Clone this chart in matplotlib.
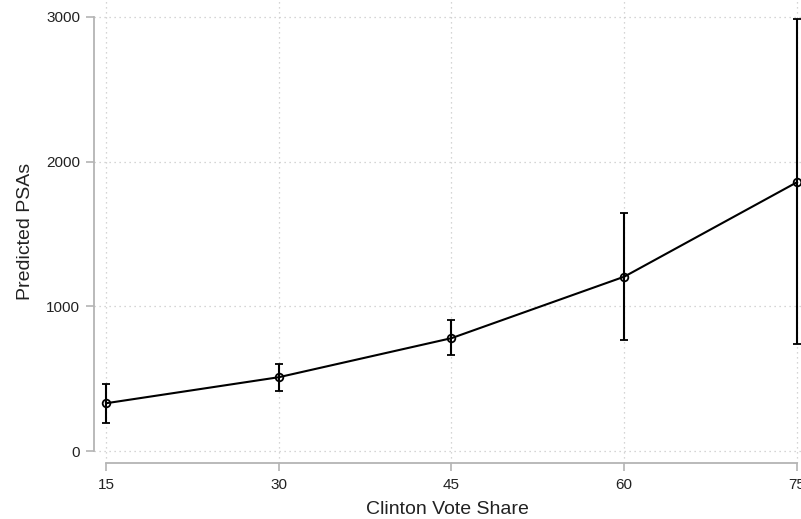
import numpy as np
import matplotlib
matplotlib.use("Agg")
from matplotlib import pyplot as plt

# dane
udzial = [15, 30, 45, 60, 75]
prognoza = [330, 510, 780, 1205, 1858]
gora = [465, 600, 903, 1645, 2985]
dol = [195, 413, 662, 765, 738]

plt.rcParams['font.family'] = ['Liberation Sans', 'DejaVu Sans']

fig = plt.figure(figsize=(8.01, 5.19), dpi=100)
ax = fig.add_axes([94 / 801, 56 / 519, 707 / 801, 463 / 519])

y = np.array(prognoza)
bledy = [y - np.array(dol), np.array(gora) - y]

ax.errorbar(udzial, prognoza, yerr=bledy, color='black', linewidth=1.5,
            elinewidth=1.5, capsize=2.6, capthick=1.5, marker='o',
            markersize=5.5, markerfacecolor='none', markeredgewidth=1.3,
            zorder=3)

ax.set_xlim(15 - 12 / 11.52, 75 + 4 / 11.52)
ax.set_ylim(-12 / 0.1447, 3000 + 17 / 0.1447)

ax.set_xticks(udzial)
ax.set_yticks([0, 1000, 2000, 3000])
ax.grid(True, linestyle=(0, (1, 3)), color='#c8c8c8', linewidth=0.9)

for s in ['top', 'right']:
    ax.spines[s].set_visible(False)
ax.spines['left'].set_bounds(0, 3000)
ax.spines['bottom'].set_bounds(15, 75)
for s in ['left', 'bottom']:
    ax.spines[s].set_color('#b4b4b4')
    ax.spines[s].set_linewidth(1.3)

ax.tick_params(axis='both', colors='#b4b4b4', length=6, width=1.2,
               labelcolor='#222222', labelsize=11)
ax.tick_params(axis='x', pad=5)
ax.tick_params(axis='y', pad=4)

ax.set_xlabel('Clinton Vote Share', fontsize=14, color='#222222', labelpad=6.5)
ax.set_ylabel('Predicted PSAs', fontsize=14, color='#222222', labelpad=9)

fig.savefig('out.png', dpi=100)
